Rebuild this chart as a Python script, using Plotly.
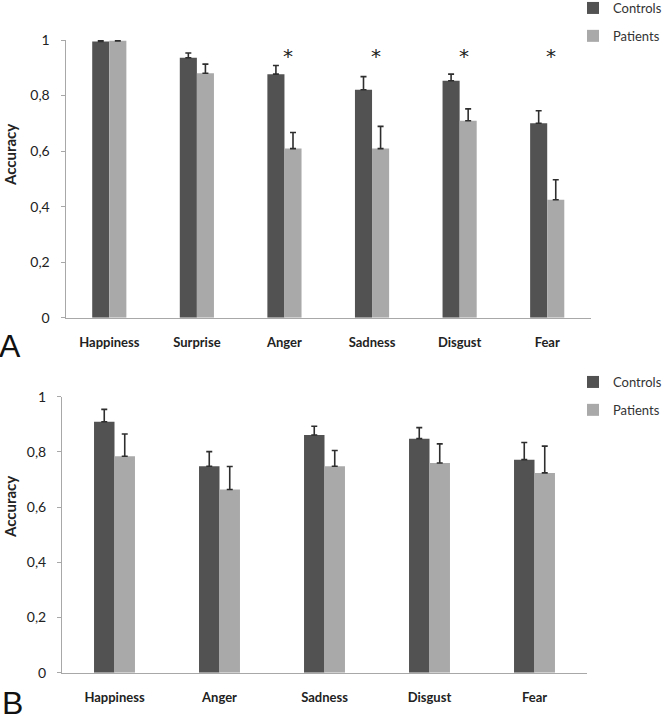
import plotly.graph_objects as go

# ---- Panel A data ----
cats_a = ["Happiness", "Surprise", "Anger", "Sadness", "Disgust", "Fear"]
controls_a = [0.995, 0.936, 0.877, 0.821, 0.853, 0.700]
controls_a_err = [0.003, 0.017, 0.031, 0.047, 0.024, 0.045]
patients_a = [0.997, 0.880, 0.609, 0.609, 0.709, 0.425]
patients_a_err = [0.006, 0.033, 0.058, 0.080, 0.043, 0.072]
signif_a = ["Anger", "Sadness", "Disgust", "Fear"]

# ---- Panel B data ----
cats_b = ["Happiness", "Anger", "Sadness", "Disgust", "Fear"]
controls_b = [0.909, 0.748, 0.861, 0.848, 0.772]
controls_b_err = [0.045, 0.053, 0.032, 0.040, 0.062]
patients_b = [0.784, 0.664, 0.748, 0.760, 0.724]
patients_b_err = [0.081, 0.083, 0.057, 0.069, 0.097]

y_ticks = [0, 0.2, 0.4, 0.6, 0.8, 1]
y_ticktext = ["0", "0,2", "0,4", "0,6", "0,8", "1"]

C_DARK = "#525252"
C_LIGHT = "#a9a9a9"
ERR_COL = "#2e2e2e"
AXIS_COL = "#a8a8a8"
FONT = "Lato"

fig = go.Figure()

def add_pair(cats, c, ce, p, pe, xa, ya, legend, show):
    fig.add_trace(go.Bar(
        x=cats, y=c, name="Controls", marker=dict(color=C_DARK, line=dict(width=0)),
        error_y=dict(type="data", array=ce, arrayminus=[0] * len(ce), symmetric=False,
                     color=ERR_COL, thickness=1.6, width=3),
        xaxis=xa, yaxis=ya, legend=legend, legendgroup=legend + "c", showlegend=show))
    fig.add_trace(go.Bar(
        x=cats, y=p, name="Patients", marker=dict(color=C_LIGHT, line=dict(width=0)),
        error_y=dict(type="data", array=pe, arrayminus=[0] * len(pe), symmetric=False,
                     color=ERR_COL, thickness=1.6, width=3),
        xaxis=xa, yaxis=ya, legend=legend, legendgroup=legend + "p", showlegend=show))

add_pair(cats_a, controls_a, controls_a_err, patients_a, patients_a_err, "x", "y", "legend", True)
add_pair(cats_b, controls_b, controls_b_err, patients_b, patients_b_err, "x2", "y2", "legend2", True)

W, H = 663, 719

def px_x(v):
    return v / W

def px_y(v):
    return 1 - v / H

xaxis_common = dict(showline=True, linecolor=AXIS_COL, linewidth=1, ticks="",
                    showgrid=False, zeroline=False,
                    tickfont=dict(family=FONT, size=13, color="#222", weight=700),
                    ticklabelstandoff=13)
yaxis_common = dict(range=[0, 1], tickvals=y_ticks, ticktext=y_ticktext,
                    showline=True, linecolor=AXIS_COL, linewidth=1,
                    ticks="outside", ticklen=4, tickcolor=AXIS_COL,
                    showgrid=False, zeroline=False,
                    tickfont=dict(family=FONT, size=14, color="#222"),
                    ticklabelstandoff=8)

fig.update_layout(
    width=W, height=H,
    margin=dict(l=0, r=0, t=0, b=0, autoexpand=False),
    paper_bgcolor="white", plot_bgcolor="white",
    barmode="group", bargap=0.61, bargroupgap=0.0,
    xaxis=dict(domain=[px_x(65.5), px_x(591)], anchor="y", **xaxis_common),
    yaxis=dict(domain=[px_y(317.7), px_y(40)], anchor="x", **yaxis_common),
    xaxis2=dict(domain=[px_x(62), px_x(587)], anchor="y2", **xaxis_common),
    yaxis2=dict(domain=[px_y(672.7), px_y(396.7)], anchor="x2", **yaxis_common),
    legend=dict(x=px_x(573), y=px_y(-7), xanchor="left", yanchor="top",
                font=dict(family=FONT, size=13, color="#333"),
                bgcolor="rgba(0,0,0,0)", tracegroupgap=8, traceorder="grouped"),
    legend2=dict(x=px_x(573), y=px_y(367), xanchor="left", yanchor="top",
                 font=dict(family=FONT, size=13, color="#333"),
                 bgcolor="rgba(0,0,0,0)", tracegroupgap=8, traceorder="grouped"),
    showlegend=True,
)

annotations = []
for c in signif_a:
    annotations.append(dict(x=c, y=0.955, xref="x", yref="y", text="*", showarrow=False,
                            xshift=4, yshift=-4,
                            font=dict(family="DejaVu Sans", size=20, color="#222")))
# y-axis titles
for yc in (155, 507):
    annotations.append(dict(x=px_x(10), y=px_y(yc), xref="paper", yref="paper", text="Accuracy",
                            textangle=-90, showarrow=False, xanchor="center", yanchor="middle",
                            font=dict(family=FONT, size=15, color="#222", weight=700)))
# panel letters
annotations.append(dict(x=0, y=px_y(326), xref="paper", yref="paper", text="A",
                        xanchor="left", yanchor="top", showarrow=False, xshift=-3,
                        font=dict(family="Liberation Sans", size=32, color="#111")))
annotations.append(dict(x=0, y=px_y(683), xref="paper", yref="paper", text="B",
                        xanchor="left", yanchor="top", showarrow=False, xshift=0,
                        font=dict(family="Liberation Sans", size=32, color="#111")))
fig.update_layout(annotations=annotations)

fig.write_html("out.html", config={"displayModeBar": False},
               post_script="document.body.style.margin='0px';")
